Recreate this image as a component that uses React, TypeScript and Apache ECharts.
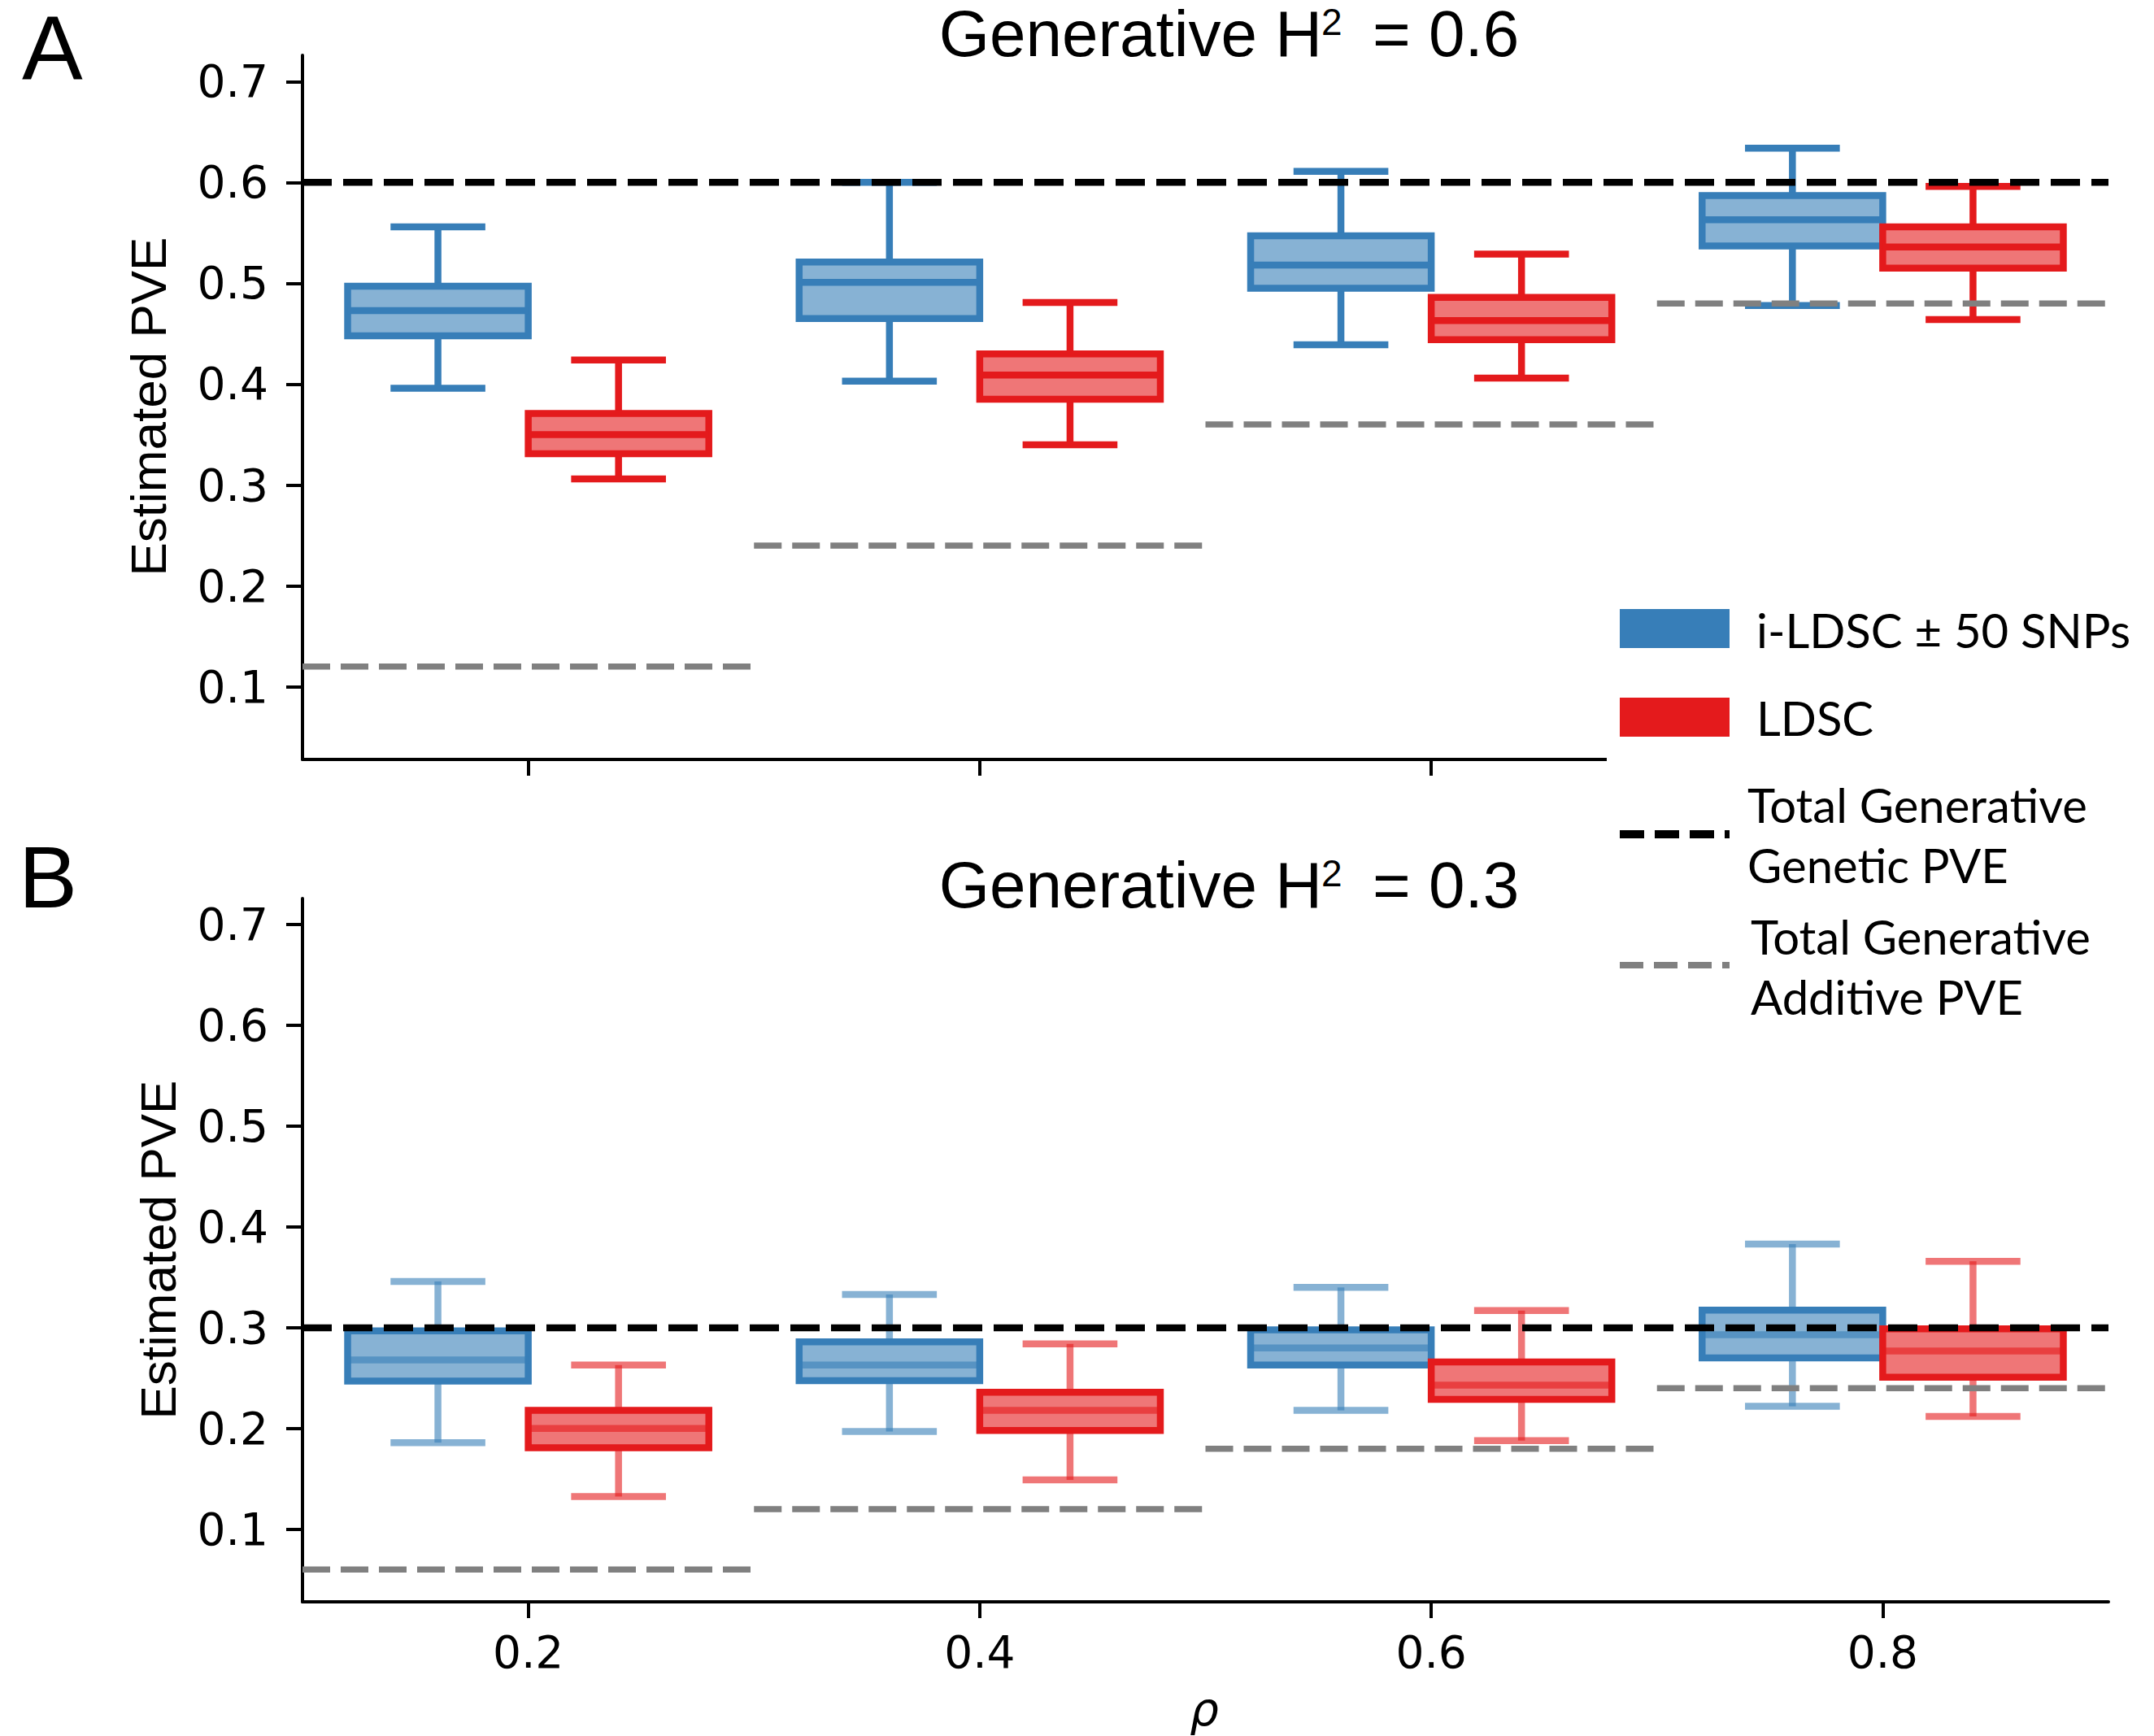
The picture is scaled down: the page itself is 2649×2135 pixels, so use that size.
import React, { useEffect, useRef } from "react";
import * as echarts from "echarts";

// ---------------- data ----------------
const rhoValues = [0.2, 0.4, 0.6, 0.8];
const xTicks = [0.2, 0.4, 0.6, 0.8];
const yTicks = [0.1, 0.2, 0.3, 0.4, 0.5, 0.6, 0.7];

// [min, q1, median, q3, max] per rho
// Panel A: generative H^2 = 0.6
const iLdscA = [
  [0.396, 0.448, 0.473, 0.497, 0.556],
  [0.403, 0.465, 0.501, 0.521, 0.6],
  [0.439, 0.495, 0.518, 0.547, 0.611],
  [0.478, 0.537, 0.563, 0.587, 0.634],
];
const ldscA = [
  [0.306, 0.331, 0.35, 0.371, 0.424],
  [0.34, 0.385, 0.409, 0.43, 0.481],
  [0.406, 0.444, 0.463, 0.486, 0.529],
  [0.464, 0.515, 0.536, 0.556, 0.596],
];
// Panel B: generative H^2 = 0.3
const iLdscB = [
  [0.186, 0.247, 0.268, 0.297, 0.346],
  [0.197, 0.2475, 0.263, 0.286, 0.333],
  [0.218, 0.263, 0.28, 0.298, 0.34],
  [0.222, 0.27, 0.293, 0.3175, 0.383],
];
const ldscB = [
  [0.1325, 0.181, 0.2, 0.218, 0.263],
  [0.149, 0.198, 0.218, 0.236, 0.284],
  [0.188, 0.229, 0.243, 0.266, 0.317],
  [0.212, 0.251, 0.277, 0.299, 0.366],
];
const genH2 = [0.6, 0.3];
const additiveA = [0.12, 0.24, 0.36, 0.48];
const additiveB = [0.06, 0.12, 0.18, 0.24];
const titles = ["0.6", "0.3"];
const legendLabels = ["i-LDSC ± 50 SNPs", "LDSC"];

// ---------------- styles ----------------
const BLUE = "#377eb8";
const RED = "#e41a1c";
const BLUE_FILL = "#87b2d4";
const RED_FILL = "#ef7677";
const X_MIN = 0.1;
const X_MAX = 0.9;
const Y_MIN = 0.028;
const Y_MAX = 0.726;
const BOX_W = 0.08;
const CAP_W = 0.042;
const OFFSET = 0.04;
const HALF_SPAN = 0.1;
const LW = 8.5;

function boxRender(color: string, fill: string, whiskerOpacity: number, medianOpacity: number) {
  return (params: any, api: any) => {
    const x = api.value(0);
    const lo = api.value(1);
    const q1 = api.value(2);
    const med = api.value(3);
    const q3 = api.value(4);
    const hi = api.value(5);
    const tl = api.coord([x - BOX_W / 2, q3]);
    const br = api.coord([x + BOX_W / 2, q1]);
    const c = api.coord([x, med]);
    const pLo = api.coord([x, lo]);
    const pHi = api.coord([x, hi]);
    const capL = api.coord([x - CAP_W / 2, lo])[0];
    const capR = api.coord([x + CAP_W / 2, lo])[0];
    const wStyle = { stroke: color, lineWidth: LW, opacity: whiskerOpacity };
    return {
      type: "group",
      children: [
        { type: "line", shape: { x1: c[0], y1: br[1], x2: c[0], y2: pLo[1] }, style: wStyle },
        { type: "line", shape: { x1: capL, y1: pLo[1], x2: capR, y2: pLo[1] }, style: wStyle },
        { type: "line", shape: { x1: c[0], y1: tl[1], x2: c[0], y2: pHi[1] }, style: wStyle },
        { type: "line", shape: { x1: capL, y1: pHi[1], x2: capR, y2: pHi[1] }, style: wStyle },
        {
          type: "rect",
          shape: { x: tl[0], y: tl[1], width: br[0] - tl[0], height: br[1] - tl[1] },
          style: { fill, stroke: color, lineWidth: LW },
        },
        {
          type: "line",
          shape: { x1: tl[0], y1: c[1], x2: br[0], y2: c[1] },
          style: { stroke: color, lineWidth: LW, opacity: medianOpacity },
        },
      ],
    };
  };
}

function refLineRender(color: string, width: number, dash: number[]) {
  return (params: any, api: any) => {
    const p0 = api.coord([api.value(0), api.value(2)]);
    const p1 = api.coord([api.value(1), api.value(2)]);
    return {
      type: "line",
      shape: { x1: p0[0], y1: p0[1], x2: p1[0], y2: p1[1] },
      style: { stroke: color, lineWidth: width, lineDash: dash },
    };
  };
}

function boxData(stats: number[][], offset: number) {
  return rhoValues.map((r, i) => [r + offset, ...stats[i]]);
}

function makeAxes(gi: number, showXLabels: boolean) {
  const xAxis = {
    type: "value",
    gridIndex: gi,
    min: X_MIN,
    max: X_MAX,
    axisLine: { show: true, onZero: false, lineStyle: { color: "#000", width: 4 } },
    axisTick: { show: true, length: 20, lineStyle: { color: "#000", width: 4 }, customValues: xTicks },
    axisLabel: {
      show: showXLabels,
      customValues: xTicks,
      formatter: (v: number) => v.toFixed(1),
      margin: 34,
      fontFamily: "DejaVu Sans",
      fontSize: 55,
      color: "#000",
    },
    splitLine: { show: false },
  };
  const yAxis = {
    type: "value",
    gridIndex: gi,
    min: Y_MIN,
    max: Y_MAX,
    axisLine: { show: true, onZero: false, lineStyle: { color: "#000", width: 4 } },
    axisTick: { show: true, length: 20, lineStyle: { color: "#000", width: 4 }, customValues: yTicks },
    axisLabel: {
      show: true,
      customValues: yTicks,
      formatter: (v: number) => v.toFixed(1),
      margin: 42,
      fontFamily: "DejaVu Sans",
      fontSize: 55,
      color: "#000",
    },
    splitLine: { show: false },
  };
  return { xAxis, yAxis };
}

function panelSeries(gi: number, blue: number[][], red: number[][], additive: number[], h2: number, faded: boolean) {
  const wOp = faded ? 0.6 : 1;
  const mOp = faded ? 0.6 : 1;
  return [
    {
      type: "custom",
      xAxisIndex: gi,
      yAxisIndex: gi,
      renderItem: boxRender(BLUE, BLUE_FILL, wOp, mOp),
      data: boxData(blue, -OFFSET),
      encode: { x: 0, y: [1, 2, 3, 4, 5] },
      z: 2,
      silent: true,
    },
    {
      type: "custom",
      xAxisIndex: gi,
      yAxisIndex: gi,
      renderItem: boxRender(RED, RED_FILL, wOp, mOp),
      data: boxData(red, OFFSET),
      encode: { x: 0, y: [1, 2, 3, 4, 5] },
      z: 2,
      silent: true,
    },
    {
      type: "custom",
      xAxisIndex: gi,
      yAxisIndex: gi,
      renderItem: refLineRender("#808080", 7.5, [34, 13]),
      data: rhoValues.map((r, i) => [r - HALF_SPAN, r + HALF_SPAN, additive[i]]),
      encode: { x: [0, 1], y: 2 },
      z: 3,
      silent: true,
    },
    {
      type: "custom",
      xAxisIndex: gi,
      yAxisIndex: gi,
      renderItem: refLineRender("#000", 8.5, [36, 14]),
      data: [[X_MIN, X_MAX, h2]],
      encode: { x: [0, 1], y: 2 },
      z: 4,
      silent: true,
    },
  ];
}

const ARIAL = "'Liberation Sans', Arial, sans-serif";
const LEG = "Lato, 'Open Sans', sans-serif";

function txt(text: string, x: number, y: number, size: number, family: string, align = "left", extra: any = {}) {
  const { styleExtra, ...rest } = extra;
  return {
    type: "text",
    x,
    y,
    z: 110,
    ...rest,
    style: {
      text,
      fontSize: size,
      fontFamily: family,
      fill: "#000",
      textAlign: align,
      textVerticalAlign: "middle",
      ...(styleExtra || {}),
    },
  };
}

function titleGraphics(value: string, cy: number, supCy: number) {
  const lh = { styleExtra: { lineHeight: 66 } };
  return [
    txt("Generative H", 1626, cy, 80, ARIAL, "right", lh),
    txt("2", 1625, supCy, 46, ARIAL, "left", { styleExtra: { lineHeight: 40 } }),
    txt("= " + value, 1688, cy, 80, ARIAL, "left", lh),
  ];
}

export default function App() {
  const ref = useRef<HTMLDivElement>(null);
  useEffect(() => {
    if (!ref.current) return;
    const chart = echarts.init(ref.current, null, { renderer: "svg" });
    const a = makeAxes(0, false);
    const b = makeAxes(1, true);
    const graphic: any[] = [
      // legend background (covers the end of panel A's x axis)
      { type: "rect", z: 100, shape: { x: 1976, y: 700, width: 673, height: 560 }, style: { fill: "#fff" } },
      { type: "rect", z: 105, shape: { x: 1992, y: 749, width: 135, height: 48 }, style: { fill: BLUE } },
      { type: "rect", z: 105, shape: { x: 1992, y: 858, width: 135, height: 48 }, style: { fill: RED } },
      {
        type: "line",
        z: 105,
        shape: { x1: 1992, y1: 1026, x2: 2127, y2: 1026 },
        style: { stroke: "#000", lineWidth: 10, lineDash: [30, 13] },
      },
      {
        type: "line",
        z: 105,
        shape: { x1: 1992, y1: 1187, x2: 2127, y2: 1187 },
        style: { stroke: "#808080", lineWidth: 8, lineDash: [29, 13] },
      },
      txt(legendLabels[0], 2160, 774, 58, LEG),
      txt(legendLabels[1], 2160, 882, 58, LEG),
      txt("Total Generative", 2149, 989, 58, LEG),
      txt("Genetic PVE", 2149, 1063, 58, LEG),
      txt("Total Generative", 2153, 1151, 58, LEG),
      txt("Additive PVE", 2153, 1225, 58, LEG),
      // panel letters
      txt("A", 27, 58, 112, ARIAL, "left", { styleExtra: { lineHeight: 90 } }),
      txt("B", 23, 1078, 108, ARIAL, "left", { styleExtra: { lineHeight: 90 } }),
      // titles
      ...titleGraphics(titles[0], 41, 27),
      ...titleGraphics(titles[1], 1088, 1074),
      // y labels
      txt("Estimated PVE", 182, 500, 62, ARIAL, "center", { rotation: Math.PI / 2 }),
      txt("Estimated PVE", 194, 1537, 62, ARIAL, "center", { rotation: Math.PI / 2 }),
      // x label
      txt("ρ", 1481, 2102, 56, "DejaVu Sans", "center", { styleExtra: { fontStyle: "italic", lineHeight: 50 } }),
    ];
    const option: any = {
      animation: false,
      backgroundColor: "#fff",
      grid: [
        { left: 372, top: 68, width: 2221, height: 866 },
        { left: 372, top: 1105, width: 2221, height: 865 },
      ],
      xAxis: [a.xAxis, b.xAxis],
      yAxis: [a.yAxis, b.yAxis],
      series: [
        ...panelSeries(0, iLdscA, ldscA, additiveA, genH2[0], false),
        ...panelSeries(1, iLdscB, ldscB, additiveB, genH2[1], true),
      ],
      graphic,
    };
    chart.setOption(option);
    return () => chart.dispose();
  }, []);
  return (
    <div
      ref={ref}
      style={{ position: "fixed", left: 0, top: 0, width: 2649, height: 2135, background: "#fff" }}
    />
  );
}
